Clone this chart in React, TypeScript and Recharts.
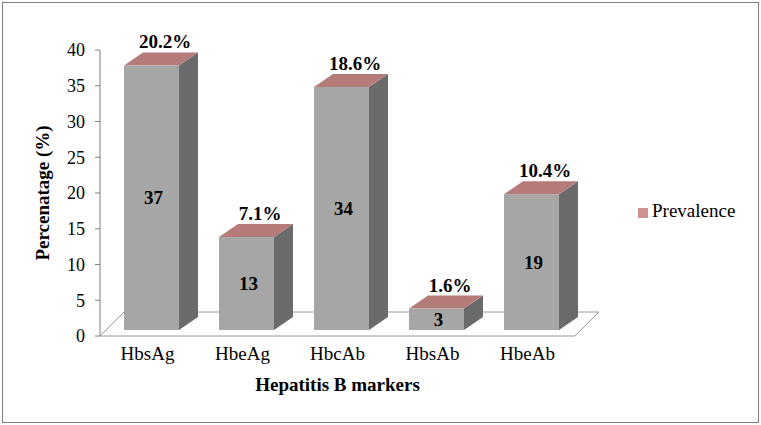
import { BarChart, Bar, XAxis, YAxis, Legend, ReferenceArea } from 'recharts';

const markers = ['HbsAg', 'HbeAg', 'HbcAb', 'HbsAb', 'HbeAb'];
const counts = [37, 13, 34, 3, 19];
const prevalence = ['20.2%', '7.1%', '18.6%', '1.6%', '10.4%'];
const yTicks = [0, 5, 10, 15, 20, 25, 30, 35, 40];

const data = markers.map((m, i) => ({ marker: m, count: counts[i], pct: prevalence[i] }));

const FONT = "'Liberation Serif', 'DejaVu Serif', serif";
// depth of the 3d boxes
const DX = 19;
const DY = 13;

const Box3D = (props: any) => {
    const { x, y, width, height, payload } = props;
    if (height == null) return null;
    const fx = x + 4;
    const fy = y - 6;
    const b = fy + height;
    const w = width;
    return (
        <g>
            <polygon points={`${fx + w},${fy} ${fx + w + DX},${fy - DY} ${fx + w + DX},${b - DY} ${fx + w},${b}`} fill="#6b6b6b" />
            <polygon points={`${fx},${fy} ${fx + DX},${fy - DY} ${fx + w + DX},${fy - DY} ${fx + w},${fy}`} fill="#b47b79" />
            <rect x={fx} y={fy} width={w} height={height} fill="#a6a6a6" />
            <text x={fx + w / 2 + 2} y={(fy + b) / 2} textAnchor="middle" dominantBaseline="central"
                style={{ fontFamily: FONT, fontWeight: 'bold', fontSize: 19 }} fill="#000">{payload.count}</text>
            <text x={fx + w / 2 + DX / 2 + 4} y={fy - DY - 4} textAnchor="middle"
                style={{ fontFamily: FONT, fontWeight: 'bold', fontSize: 19 }} fill="#000">{payload.pct}</text>
        </g>
    );
};

const Floor = (props: any) => {
    const { x, y, width, height } = props;
    const yb = y + height;
    return (
        <polygon
            points={`${x},${yb} ${x + 24},${yb - 24} ${x + width + 24},${yb - 24} ${x + width},${yb}`}
            fill="#fff" stroke="#9a9a9a" strokeWidth={1}
        />
    );
};

const App = () => {
    return (
        <div style={{ position: 'absolute', left: 0, top: 0, width: 761, height: 425, background: '#fff', fontFamily: FONT }}>
            <div style={{ position: 'absolute', left: 2, top: 2, width: 755, height: 419, border: '1px solid #808080' }} />
            <BarChart width={761} height={425} data={data} margin={{ top: 50, right: 186, bottom: 29, left: 40 }}
                style={{ fontFamily: FONT }}>
                <ReferenceArea y1={0} y2={40} shape={<Floor />} ifOverflow="visible" />
                <XAxis dataKey="marker" axisLine={false} tickLine={false} height={60} dy={3}
                    tick={{ fontSize: 19, fill: '#000', style: { fontFamily: FONT } }}
                    label={{ value: 'Hepatitis B markers', position: 'insideBottom', offset: 5, fontSize: 19, fontWeight: 'bold', fill: '#000', style: { fontFamily: FONT } }} />
                <YAxis domain={[0, 40]} ticks={yTicks} width={60} tickSize={5} tickMargin={10}
                    axisLine={{ stroke: '#808080' }} tickLine={{ stroke: '#808080' }}
                    tick={{ fontSize: 18, fill: '#000', style: { fontFamily: FONT } }}
                    label={{ value: 'Percenatage (%)', angle: -90, position: 'center', dx: -28, fontSize: 19, fontWeight: 'bold', fill: '#000', style: { fontFamily: FONT } }} />
                <Legend layout="horizontal" align="center" verticalAlign="middle" iconType="square" iconSize={10}
                    wrapperStyle={{ left: 638, top: 200, width: 'auto' }}
                    formatter={(v: string) => <span style={{ color: '#000', fontSize: 19, fontFamily: FONT }}>{v}</span>} />
                <Bar dataKey="count" name="Prevalence" fill="#cf9090" barSize={55} shape={<Box3D />} isAnimationActive={false} />
            </BarChart>
        </div>
    );
};

export default App;
